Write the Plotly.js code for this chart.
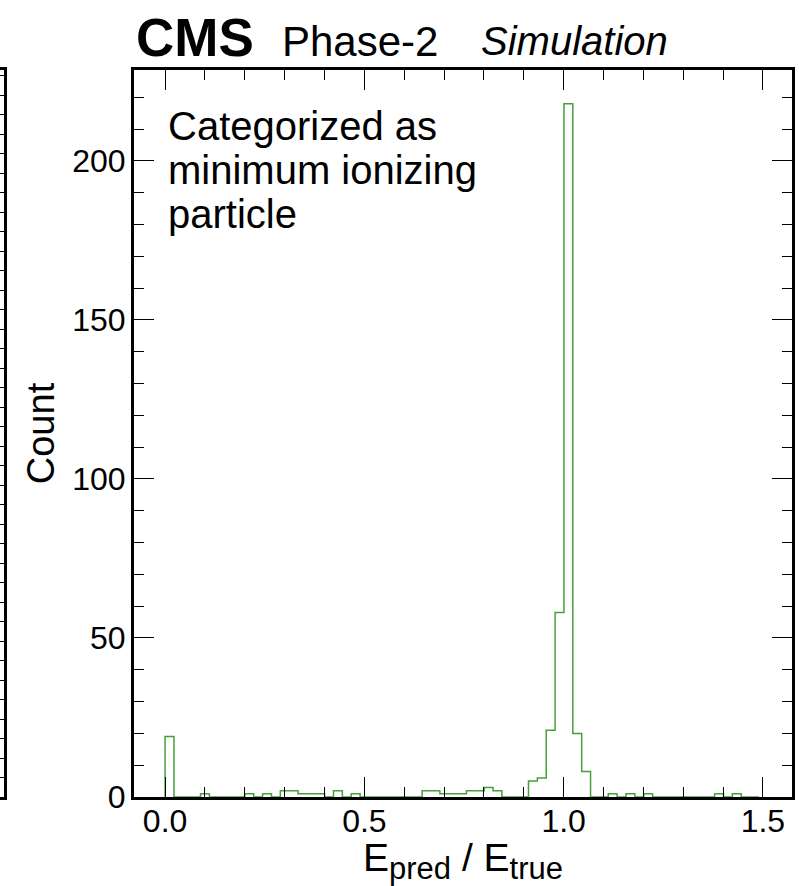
<!DOCTYPE html>
<html>
<head>
<meta charset="utf-8">
<script src="https://cdn.plot.ly/plotly-3.0.1.min.js"></script>
<style>html,body{margin:0;padding:0;background:#fff;}</style>
</head>
<body>
<div id="chart" style="width:799px;height:886px;"></div>
<script>
// ---- data ----
const binStart = 0.0;
const binWidth = 0.02224;
const counts = [
  19, 0, 0, 0, 1, 0, 0, 0, 0, 1,
  0, 1, 0, 2, 2, 1, 1, 1, 0, 2,
  0, 1, 0, 0, 0, 0, 0, 0, 0, 2,
  2, 1, 1, 1, 2, 2, 3, 2, 0, 0,
  0, 5, 6, 21, 58, 218, 20, 8, 0, 0,
  1, 0, 1, 0, 1, 0, 0, 0, 0, 0,
  0, 0, 1, 0, 1, 0, 0
];
const xTickVals = [0, 0.5, 1.0, 1.5];
const xTickText = ['0.0', '0.5', '1.0', '1.5'];
const yTickVals = [0, 50, 100, 150, 200];
const yTickText = ['0', '50', '100', '150', '200'];
const textLines = ['Categorized as', 'minimum ionizing', 'particle'];

// ---- step outline from bin edges ----
const edges = counts.map((c, i) => binStart + i * binWidth);
edges.push(binStart + counts.length * binWidth);
const sx = [edges[0]];
const sy = [0];
for (let i = 0; i < counts.length; i++) { sx.push(edges[i]); sy.push(counts[i]); }
sx.push(edges[edges.length - 1]); sy.push(0);

const FONT = 'Liberation Sans, Arial, sans-serif';
const W = 792, H = 727, TOP = 70; // plot area in px (margin l=0, t=70)
const px = v => v / W;
const py = v => (TOP + H - v) / H;

const trace = {
  x: sx, y: sy, type: 'scatter', mode: 'lines',
  line: {shape: 'hv', color: '#46a03a', width: 1.5},
  hoverinfo: 'skip', showlegend: false
};
// left neighbouring panel edge (empty)
const dummy = {x: [0], y: [0], xaxis: 'x2', yaxis: 'y2', mode: 'markers',
  marker: {opacity: 0}, showlegend: false, hoverinfo: 'skip'};

const layout = {
  width: 799, height: 886,
  margin: {l: 0, r: 7, t: 70, b: 89},
  paper_bgcolor: '#fff', plot_bgcolor: '#fff',
  font: {family: FONT, color: '#000'},
  showlegend: false,
  xaxis: {
    domain: [134 / W, 1], range: [-0.078, 1.573],
    tickmode: 'array', tickvals: xTickVals, ticktext: xTickText,
    ticks: 'inside', ticklen: 20, tickwidth: 1, tickcolor: '#000',
    minor: {tickmode: 'linear', tick0: 0, dtick: 0.1, ticks: 'inside', ticklen: 10, tickwidth: 1, tickcolor: '#000'},
    showline: true, linewidth: 3, linecolor: '#000', mirror: 'allticks',
    showgrid: false, zeroline: false,
    tickfont: {size: 32, family: FONT, color: '#000'},
    ticklabelstandoff: -6,
    title: {text: 'E<sub><span style="font-size:31px">pred</span></sub> / E<sub><span style="font-size:31px">true</span></sub>',
            font: {size: 39, family: FONT, color: '#000'}, standoff: 16}
  },
  yaxis: {
    range: [0, 228.6],
    tickmode: 'array', tickvals: yTickVals, ticktext: yTickText,
    ticks: 'inside', ticklen: 20, tickwidth: 1, tickcolor: '#000',
    minor: {tickmode: 'linear', tick0: 0, dtick: 10, ticks: 'inside', ticklen: 10, tickwidth: 1, tickcolor: '#000'},
    showline: true, linewidth: 3, linecolor: '#000', mirror: 'allticks',
    showgrid: false, zeroline: false,
    tickfont: {size: 32, family: FONT, color: '#000'},
    ticklabelstandoff: -1,
    title: {text: 'Count', font: {size: 38, family: FONT, color: '#000'}, standoff: 6}
  },
  xaxis2: {domain: [0, 4 / W], anchor: 'y2', range: [0, 1], showticklabels: false,
    ticks: '', showline: true, linewidth: 3, linecolor: '#000', mirror: true,
    showgrid: false, zeroline: false},
  yaxis2: {anchor: 'x2', side: 'right', range: [0, 37.3], dtick: 1, tick0: 0,
    showticklabels: false, ticks: 'inside', ticklen: 10, tickwidth: 1, tickcolor: '#000',
    showline: true, linewidth: 3, linecolor: '#000', showgrid: false, zeroline: false},
  annotations: [
    {xref: 'paper', yref: 'paper', x: px(134), y: py(37), xanchor: 'left', yanchor: 'middle',
     text: '<b>CMS</b>', showarrow: false, font: {size: 53, family: FONT, color: '#000'}},
    {xref: 'paper', yref: 'paper', x: px(280), y: py(41), xanchor: 'left', yanchor: 'middle',
     text: 'Phase-2', showarrow: false, font: {size: 42, family: FONT, color: '#000'}},
    {xref: 'paper', yref: 'paper', x: px(479), y: py(41), xanchor: 'left', yanchor: 'middle',
     text: '<i>Simulation</i>', showarrow: false, font: {size: 40, family: FONT, color: '#000'}}
  ].concat(textLines.map((t, i) => ({
    xref: 'paper', yref: 'paper', x: px(166), y: py(126 + i * 44), xanchor: 'left', yanchor: 'middle',
    text: t, showarrow: false, font: {size: 40, family: FONT, color: '#000'}
  })))
};

Plotly.newPlot('chart', [trace, dummy], layout, {staticPlot: true, displayModeBar: false});
</script>
</body>
</html>
